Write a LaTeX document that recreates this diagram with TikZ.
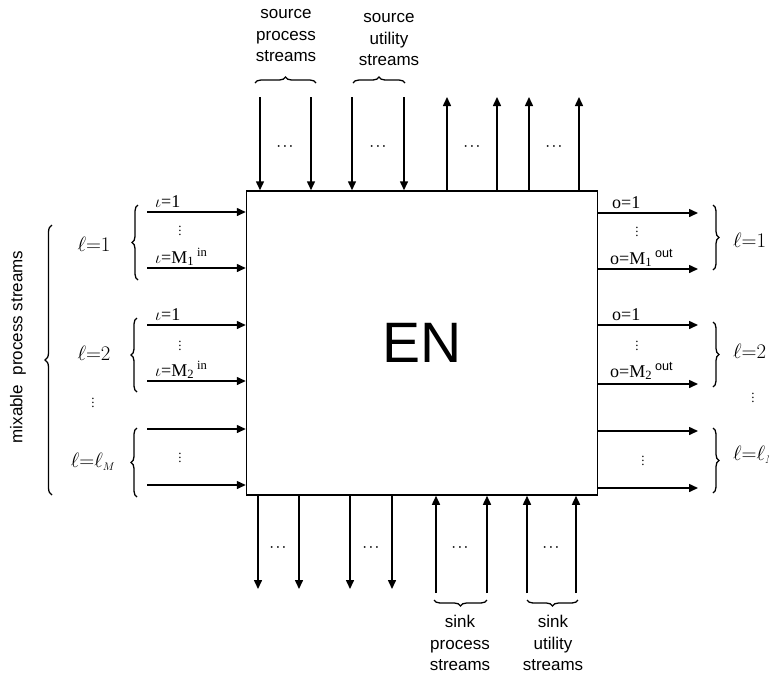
\documentclass[tikz,border=0pt]{standalone}
\usepackage{fontspec}
\setmainfont{Liberation Serif}
\setsansfont{Liberation Sans}
\usetikzlibrary{arrows.meta,decorations.pathreplacing}
\begin{document}
\begin{tikzpicture}[x=1pt,y=-1pt,
  flow/.style={line width=1.5pt,-{Triangle[length=9pt,width=8pt]}},
  brc/.style={line width=1.3pt,decorate,decoration={brace,amplitude=6pt}},
  lbl/.style={font=\fontsize{18}{18}\selectfont,inner sep=0pt,anchor=base west},
  biglbl/.style={font=\fontsize{22}{22}\selectfont,inner sep=0pt},
  capt/.style={font=\sffamily\fontsize{17}{21.5}\selectfont,align=center,inner sep=0pt},
  hdots/.style={font=\fontsize{13}{13}\selectfont\boldmath,inner sep=0pt},
  vdots/.style={font=\fontsize{13}{13}\selectfont\boldmath,inner sep=0pt}]
\useasboundingbox (0,0) rectangle (769,673);
\clip (0,0) rectangle (769,673);
% main box
\node[draw,line width=1.5pt,minimum width=351pt,minimum height=304pt,inner sep=0pt,
      font=\sffamily\fontsize{57}{57}\selectfont] (EN) at (422,343) {EN};
% top streams
\foreach \n/\x in {1/260,2/311,3/352,4/404} {
  \coordinate (ti\n) at (\x,97);
  \draw[flow] (ti\n) -- (ti\n |- EN.north);
}
\foreach \n/\x in {1/447,2/497,3/529,4/579} {
  \coordinate (to\n) at (\x,97);
  \draw[flow] (to\n |- EN.north) -- (to\n);
}
% bottom streams
\foreach \n/\x in {1/258,2/299,3/350,4/392} {
  \coordinate (bo\n) at (\x,589);
  \draw[flow] (bo\n |- EN.south) -- (bo\n);
}
\foreach \n/\x in {1/436,2/487,3/527,4/576} {
  \coordinate (bi\n) at (\x,593);
  \draw[flow] (bi\n) -- (bi\n |- EN.south);
}
% left streams
\foreach \n/\y in {1/212,2/268,3/325,4/381,5/429,6/485} {
  \coordinate (li\n) at (147,\y);
  \draw[flow] (li\n) -- (li\n -| EN.west);
}
% right streams
\foreach \n/\y in {1/213,2/269,3/325,4/384,5/431,6/488} {
  \coordinate (ro\n) at (698,\y);
  \draw[flow] (ro\n -| EN.east) -- (ro\n);
}
% horizontal dots
\foreach \n/\x in {1/285,2/378,3/472,4/554} {\node[hdots] (td\n) at (\x,147) {$\cdots$};}
\foreach \n/\x in {1/278,2/371,3/460,4/551} {\node[hdots] (bd\n) at (\x,548) {$\cdots$};}
% top braces and captions
\draw[brc] (255,83) -- (316,83);
\draw[brc] (353,83) -- (405,83);
\node[capt] (csp) at (286,36) {source\\process\\streams};
\node[capt] (csu) at (389,40) {source\\utility\\streams};
% bottom braces and captions
\draw[brc] (487,600) -- (434,600);
\draw[brc] (578,600) -- (527,600);
\node[capt] (ckp) at (460,643) {sink\\process\\streams};
\node[capt] (cku) at (553,643) {sink\\utility\\streams};
% left labels
\node[lbl] (la1) at (155,207) {$\iota$=1};
\node[vdots] (lv1) at (180,228) {$\vdots$};
\node[lbl] (la2) at (155,263) {$\iota$=M\textsubscript{1}\,\textsuperscript{in}};
\node[lbl] (la3) at (155,320) {$\iota$=1};
\node[vdots] (lv2) at (180,343) {$\vdots$};
\node[lbl] (la4) at (155,376) {$\iota$=M\textsubscript{2}\,\textsuperscript{in}};
\node[vdots] (lv3) at (180,455) {$\vdots$};
% right labels
\node[lbl] (ra1) at (612,208) {o=1};
\node[vdots] (rv1) at (637,229) {$\vdots$};
\node[lbl] (ra2) at (610,264) {o=M\textsubscript{1}\,\textsuperscript{\sffamily out}};
\node[lbl] (ra3) at (612,320) {o=1};
\node[vdots] (rv2) at (637,343) {$\vdots$};
\node[lbl] (ra4) at (610,377) {o=M\textsubscript{2}\,\textsuperscript{\sffamily out}};
\node[vdots] (rv3) at (643,458) {$\vdots$};
% left group braces
\draw[brc] (138,280) -- (138,205);
\draw[brc] (137,392) -- (137,318);
\draw[brc] (137,497) -- (137,428);
\node[biglbl] (lg1) at (94,244) {$\ell{=}1$};
\node[biglbl] (lg2) at (94,353) {$\ell{=}2$};
\node[vdots] (lgv) at (93,400) {$\vdots$};
\node[biglbl] (lg3) at (93,462) {$\ell{=}\ell_{\scriptscriptstyle M}$};
% right group braces
\draw[brc] (713,205) -- (713,270);
\draw[brc] (713,322) -- (713,387);
\draw[brc] (713,428) -- (713,493);
\node[biglbl,anchor=west] (rg1) at (733,240) {$\ell{=}1$};
\node[biglbl,anchor=west] (rg2) at (733,351) {$\ell{=}2$};
\node[vdots] (rgv) at (753,395) {$\vdots$};
\node[biglbl,anchor=west] (rg3) at (733,455) {$\ell{=}\ell_{\scriptscriptstyle M}$};
% big brace and its caption
\draw[line width=1.3pt,decorate,decoration={brace,amplitude=7pt}] (52,495) -- (52,225);
\node[font=\sffamily\fontsize{17}{17}\selectfont,rotate=90,inner sep=0pt] (mix) at (18,347) {mixable\ \ process streams};
\end{tikzpicture}
\end{document}
